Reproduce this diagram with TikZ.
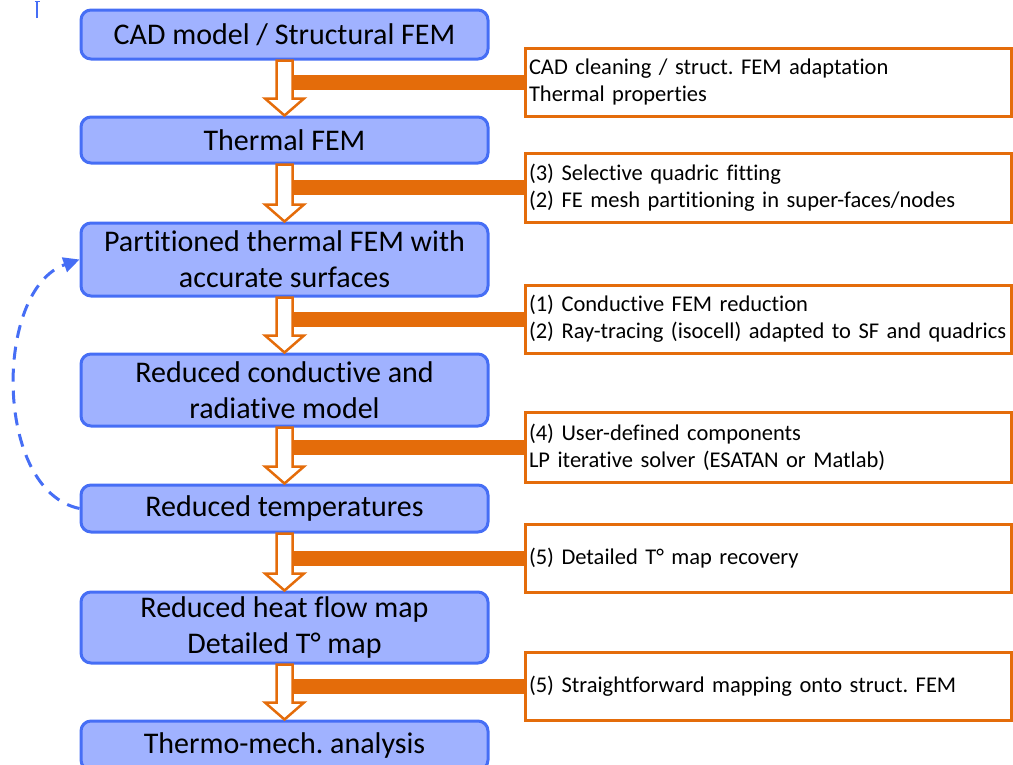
\documentclass[tikz,border=0pt]{standalone}
\usepackage{fontspec}
\setmainfont{Carlito}[Ligatures=NoCommon]
\frenchspacing
\usetikzlibrary{arrows.meta,calc}
\definecolor{bfill}{RGB}{160,178,255}
\definecolor{bdraw}{RGB}{70,110,245}
\definecolor{orng}{RGB}{228,108,10}
\tikzset{
 bbox/.style={draw=bdraw, fill=bfill, line width=3pt, rounded corners=10pt, minimum width=407pt, inner sep=0pt, align=center, font=\fontsize{30}{36}\selectfont},
 obox/.style={draw=orng, fill=white, line width=3pt, minimum width=486pt, text width=478pt, inner sep=0pt, align=left, font=\fontsize{22.5}{27}\selectfont},
 hollow/.style={draw=orng, fill=white, line width=2.5pt, line join=miter},
 obar/.style={draw=orng, line width=15pt},
 loopline/.style={draw=bdraw, line width=3pt, dash pattern=on 13pt off 9pt, -{Triangle[length=16pt,width=15pt]}},
}
\newcommand\hollowarrow[2]{%
 \draw[hollow] ([xshift=-8pt]#1.south) -- ([xshift=-8pt,yshift=17pt]#2.north) -- ([xshift=-19.5pt,yshift=17pt]#2.north) -- (#2.north) -- ([xshift=19.5pt,yshift=17pt]#2.north) -- ([xshift=8pt,yshift=17pt]#2.north) -- ([xshift=8pt]#1.south) -- cycle;}
\newcommand\sidebar[2]{%
 \coordinate (tmp) at ([xshift=8pt]#1.south);
 \draw[obar] (tmp |- #2.west) -- (#2.west);}
\begin{document}
\begin{tikzpicture}[x=1pt,y=-1pt]
\path[use as bounding box, clip] (0,0) rectangle (1013,764);
% blue boxes
\node[bbox, minimum height=49pt] (b1) at (284.5,34.5) {CAD model / Structural FEM};
\node[bbox, minimum height=46pt] (b2) at (284.5,140) {Thermal FEM};
\node[bbox, minimum height=73pt] (b3) at (284.5,259.5) {Partitioned thermal FEM with\\accurate surfaces};
\node[bbox, minimum height=72pt] (b4) at (284.5,390) {Reduced conductive and\\radiative model};
\node[bbox, minimum height=47pt] (b5) at (284.5,508.5) {Reduced temperatures};
\node[bbox, minimum height=71pt] (b6) at (284.5,627.5) {Reduced heat flow map\\Detailed T° map};
\node[bbox, minimum height=49pt] (b7) at (284.5,745.5) {Thermo-mech. analysis};
% orange boxes
\node[obox, minimum height=68pt] (o1) at (768,82) {CAD cleaning / struct. FEM adaptation\\Thermal properties};
\node[obox, minimum height=69pt] (o2) at (768,187.5) {(3) Selective quadric fitting\\(2) FE mesh partitioning in super-faces/nodes};
\node[obox, minimum height=68pt] (o3) at (768,319) {(1) Conductive FEM reduction\\(2) Ray-tracing (isocell) adapted to SF and quadrics};
\node[obox, minimum height=70pt] (o4) at (768,447) {(4) User-defined components\\LP iterative solver (ESATAN or Matlab)};
\node[obox, minimum height=68pt] (o5) at (768,558) {(5) Detailed T° map recovery};
\node[obox, minimum height=68pt] (o6) at (768,686) {(5) Straightforward mapping onto struct. FEM};
% bars
\sidebar{b1}{o1}
\sidebar{b2}{o2}
\sidebar{b3}{o3}
\sidebar{b4}{o4}
\sidebar{b5}{o5}
\sidebar{b6}{o6}
% hollow arrows
\hollowarrow{b1}{b2}
\hollowarrow{b2}{b3}
\hollowarrow{b3}{b4}
\hollowarrow{b4}{b5}
\hollowarrow{b5}{b6}
\hollowarrow{b6}{b7}
% feedback loop
\draw[loopline] (b5.west) .. controls +(-86,-18) and +(-86,30) .. (b3.west);
% small mark
\draw[bdraw, line width=2pt] (37,18) -- (37,2);
\draw[bdraw, line width=1.5pt] (34.5,1.5) -- (39.5,1.5);
\end{tikzpicture}
\end{document}
